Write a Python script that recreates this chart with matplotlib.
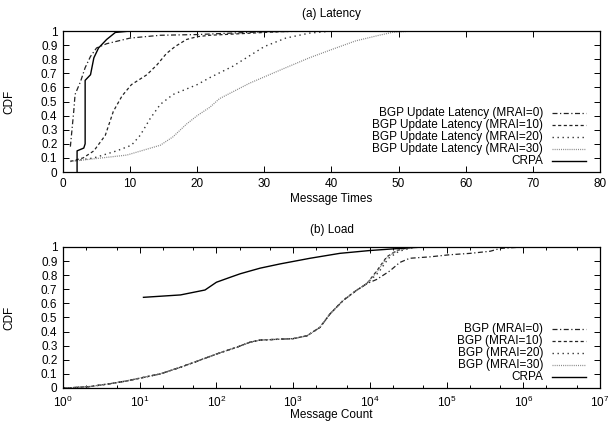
import matplotlib
matplotlib.use('Agg')
import matplotlib.pyplot as plt
from matplotlib.ticker import LogLocator, MultipleLocator, FuncFormatter, NullFormatter

plt.rcParams['font.family'] = ['Liberation Sans', 'DejaVu Sans']
plt.rcParams['mathtext.default'] = 'regular'
plt.rcParams['font.size'] = 8.5

# (a) latency, CDF over message times
lat_crpa_x = [2.1, 2.1, 2.6, 3.1, 3.3, 3.3, 4.1, 4.6, 5.3, 6.5, 7.8, 10, 80]
lat_crpa_y = [0, 0.15, 0.16, 0.17, 0.2, 0.65, 0.69, 0.81, 0.88, 0.94, 0.99, 1.0, 1.0]
lat_m0_x = [1.1, 1.6, 1.8, 2.6, 3.3, 4.1, 5.0, 6.5, 10, 14.5, 20, 25, 30, 40]
lat_m0_y = [0.18, 0.43, 0.55, 0.64, 0.74, 0.82, 0.88, 0.91, 0.95, 0.97, 0.975, 0.985, 0.995, 1.0]
lat_m10_x = [1.1, 3.0, 4.6, 6.3, 7.5, 8.8, 10.2, 12.5, 14, 15.4, 16.7, 18.4, 20, 21.9, 30, 35]
lat_m10_y = [0.075, 0.1, 0.15, 0.26, 0.43, 0.54, 0.62, 0.69, 0.76, 0.84, 0.89, 0.94, 0.96, 0.97, 0.99, 1.0]
lat_m20_x = [1.1, 4.6, 8, 10.2, 11.5, 13, 14.5, 16.4, 20, 21.9, 25.3, 30, 33.2, 36.7, 40.1, 45]
lat_m20_y = [0.075, 0.1, 0.15, 0.19, 0.26, 0.38, 0.48, 0.55, 0.62, 0.67, 0.75, 0.89, 0.95, 0.985, 1.0, 1.0]
lat_m30_x = [1.1, 9.5, 14.5, 16.4, 18.4, 20, 21.9, 23.3, 27.8, 32.7, 36.7, 40.1, 43.6, 47.1, 49, 52]
lat_m30_y = [0.075, 0.12, 0.19, 0.25, 0.34, 0.4, 0.46, 0.52, 0.63, 0.73, 0.81, 0.87, 0.93, 0.97, 0.99, 1.0]

# (b) load, CDF over message count (BGP curves share the lower part)
load_bgp_x = [1, 1.12, 2.24, 4.07, 6.76, 11.2, 18.6, 33.9, 50, 79, 112, 186, 275, 372,
              1000, 1514, 2239, 3020, 4467, 6607, 9120]
load_bgp_y = [0, 0.0, 0.01, 0.03, 0.05, 0.075, 0.1, 0.147, 0.18, 0.22, 0.25, 0.29, 0.325, 0.34,
              0.35, 0.37, 0.43, 0.525, 0.62, 0.69, 0.74]
load_m0_x = [12300, 18200, 24500, 33100, 60300, 110000, 204000, 372000, 500000, 1000000]
load_m0_y = [0.77, 0.83, 0.89, 0.92, 0.93, 0.945, 0.955, 0.97, 0.99, 1.0]
load_m10_x = [12300, 16600, 22400, 33100, 40000]
load_m10_y = [0.83, 0.93, 0.975, 0.998, 1.0]
load_m20_x = [13000, 17500, 24000, 36000, 45000]
load_m20_y = [0.82, 0.92, 0.97, 0.995, 1.0]
load_m30_x = [12600, 17000, 23000, 34000, 42000]
load_m30_y = [0.83, 0.93, 0.975, 0.997, 1.0]
load_crpa_x = [11.2, 34, 71, 100, 151, 204, 275, 372, 676, 1660, 4070, 10000, 24500, 50100, 1000000]
load_crpa_y = [0.643, 0.66, 0.695, 0.75, 0.785, 0.81, 0.83, 0.85, 0.88, 0.92, 0.955, 0.975, 0.99, 1.0, 1.0]

lat_labels = ['BGP Update Latency (MRAI=0)', 'BGP Update Latency (MRAI=10)',
              'BGP Update Latency (MRAI=20)', 'BGP Update Latency (MRAI=30)', 'CRPA']
load_labels = ['BGP (MRAI=0)', 'BGP (MRAI=10)', 'BGP (MRAI=20)', 'BGP (MRAI=30)', 'CRPA']

# gnuplot-ish line types
styles = [
    dict(color='#222222', lw=0.9, ls=(0, (4, 2, 1, 2))),
    dict(color='#222222', lw=0.9, ls=(0, (2.5, 2))),
    dict(color='#333333', lw=1.0, ls=(0, (1, 2.6))),
    dict(color='#888888', lw=0.9, ls=(0, (0.8, 0.9))),
    dict(color='black', lw=1.0, ls='-'),
]


def tidy(ax):
    ax.tick_params(which='both', direction='in', top=True, right=True, width=0.7)
    ax.tick_params(which='major', length=4, pad=4)
    ax.tick_params(which='minor', length=2.5)
    for s in ax.spines.values():
        s.set_linewidth(0.9)
    ax.set_ylim(0, 1)
    ax.yaxis.set_major_locator(MultipleLocator(0.1))
    ax.yaxis.set_major_formatter(FuncFormatter(lambda v, p: f'{round(v, 1):g}'))
    ax.set_ylabel('CDF')
    ax.yaxis.set_label_coords(-0.089, 0.5)


def key(ax, labels):
    # gnuplot style key: right aligned text, sample to its right
    for i, (lab, st) in enumerate(zip(labels, styles)):
        y = 0.42 - i * 0.086
        ax.text(0.894, y, lab, ha='right', va='center', transform=ax.transAxes)
        ax.plot([0.911, 0.974], [y, y], transform=ax.transAxes, color=st['color'],
                lw=st['lw'], ls=st['ls'])


fig = plt.figure(figsize=(6.08, 4.28), dpi=100)
ax1 = fig.add_axes([0.1036, 0.5981, 0.8832, 0.3294])
ax2 = fig.add_axes([0.1036, 0.0935, 0.8832, 0.3294])

lat = [(lat_m0_x, lat_m0_y), (lat_m10_x, lat_m10_y), (lat_m20_x, lat_m20_y),
       (lat_m30_x, lat_m30_y), (lat_crpa_x, lat_crpa_y)]
for (x, y), st in zip(lat, styles):
    ax1.plot(x, y, color=st['color'], lw=st['lw'], ls=st['ls'])
ax1.set_xlim(0, 80)
ax1.xaxis.set_major_locator(MultipleLocator(10))
tidy(ax1)
ax1.set_title('(a) Latency', fontsize=8.5, pad=10)
ax1.set_xlabel('Message Times')
ax1.xaxis.set_label_coords(0.5, -0.15)
key(ax1, lat_labels)

tails = [(load_m0_x, load_m0_y), (load_m10_x, load_m10_y), (load_m20_x, load_m20_y),
         (load_m30_x, load_m30_y)]
for (x, y), st in zip(tails, styles[:4]):
    ax2.plot(load_bgp_x + x, load_bgp_y + y, color=st['color'], lw=st['lw'], ls=st['ls'])
ax2.plot(load_crpa_x, load_crpa_y, color=styles[4]['color'], lw=styles[4]['lw'], ls='-')
ax2.set_xscale('log')
ax2.set_xlim(1, 1e7)
ax2.set_xticks([10.0 ** k for k in range(8)])
ax2.xaxis.set_minor_locator(LogLocator(base=10, subs=(2, 5), numticks=10))
ax2.xaxis.set_minor_formatter(NullFormatter())
tidy(ax2)
ax2.tick_params(axis='x', which='major', pad=5)
ax2.set_title('(b) Load', fontsize=8.5, pad=10)
ax2.set_xlabel('Message Count')
ax2.xaxis.set_label_coords(0.5, -0.15)
key(ax2, load_labels)

plt.savefig('out.png', dpi=100)
